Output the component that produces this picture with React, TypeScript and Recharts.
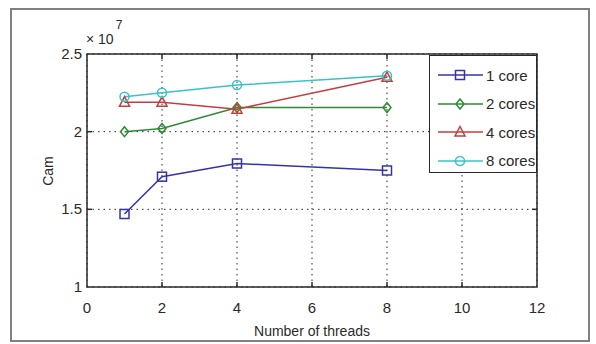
import { LineChart, Line, XAxis, YAxis, CartesianGrid, ReferenceArea, Legend } from "recharts";

const threads = [1, 2, 4, 8];
const oneCore = [1.47e7, 1.71e7, 1.795e7, 1.75e7];
const twoCores = [2.0e7, 2.02e7, 2.155e7, 2.155e7];
const fourCores = [2.19e7, 2.19e7, 2.145e7, 2.35e7];
const eightCores = [2.225e7, 2.25e7, 2.30e7, 2.36e7];

const xTicks = [0, 2, 4, 6, 8, 10, 12];
const yTicks = [1e7, 1.5e7, 2e7, 2.5e7];

const series = [
  { key: "one", name: "1 core", color: "#3434a8", marker: "square" },
  { key: "two", name: "2 cores", color: "#2f8a34", marker: "diamond" },
  { key: "four", name: "4 cores", color: "#c83c3c", marker: "triangle" },
  { key: "eight", name: "8 cores", color: "#38c4c4", marker: "circle" },
];

const data = threads.map((t, i) => ({
  threads: t,
  one: oneCore[i],
  two: twoCores[i],
  four: fourCores[i],
  eight: eightCores[i],
}));

const W = 596;
const H = 344;
const PLOT_LEFT = 87;
const PLOT_RIGHT = 537;
const PLOT_TOP = 54;
const PLOT_BOTTOM = 287;
const FONT = "'Liberation Sans Narrow', 'Liberation Sans', Arial, sans-serif";
const INK = "#2a2a2a";

function Marker({ type, cx, cy, color, k }: { type: string; cx: number; cy: number; color: string; k?: any }) {
  const s = 4.5;
  if (type === "square")
    return <rect key={k} x={cx - s} y={cy - s} width={s * 2} height={s * 2} fill="none" stroke={color} strokeWidth={1.5} />;
  if (type === "diamond")
    return (
      <polygon
        key={k}
        points={`${cx},${cy - 5} ${cx + 4},${cy} ${cx},${cy + 5} ${cx - 4},${cy}`}
        fill="none"
        stroke={color}
        strokeWidth={1.5}
      />
    );
  if (type === "triangle")
    return (
      <polygon
        key={k}
        points={`${cx},${cy - 5.5} ${cx + 5},${cy + 4} ${cx - 5},${cy + 4}`}
        fill="none"
        stroke={color}
        strokeWidth={1.5}
      />
    );
  return <circle key={k} cx={cx} cy={cy} r={4.5} fill="none" stroke={color} strokeWidth={1.5} />;
}

function XTick(props: any) {
  const { x, payload } = props;
  const inner = payload.value !== 0 && payload.value !== 12;
  return (
    <g>
      {inner && <line x1={x} x2={x} y1={PLOT_BOTTOM} y2={PLOT_BOTTOM - 5} stroke={INK} strokeWidth={1.5} />}
      {inner && <line x1={x} x2={x} y1={PLOT_TOP} y2={PLOT_TOP + 5} stroke={INK} strokeWidth={1.5} />}
      <text x={x} y={313} textAnchor="middle" fontFamily={FONT} fontSize={15} fill={INK}>
        {payload.value}
      </text>
    </g>
  );
}

function YTick(props: any) {
  const { y, payload } = props;
  const inner = payload.value !== 1e7 && payload.value !== 2.5e7;
  return (
    <g>
      {inner && <line x1={PLOT_LEFT} x2={PLOT_LEFT + 5} y1={y} y2={y} stroke={INK} strokeWidth={1.5} />}
      {inner && <line x1={PLOT_RIGHT} x2={PLOT_RIGHT - 5} y1={y} y2={y} stroke={INK} strokeWidth={1.5} />}
      <text x={PLOT_LEFT - 5} y={y + 5} textAnchor="end" fontFamily={FONT} fontSize={15} fill={INK}>
        {payload.value / 1e7}
      </text>
    </g>
  );
}

function LegendBox() {
  return (
    <div
      style={{
        width: 108,
        height: 118,
        boxSizing: "border-box",
        border: `1.5px solid ${INK}`,
        background: "#fff",
        paddingTop: 5,
      }}
    >
      {series.map((s) => (
        <div key={s.key} style={{ display: "flex", alignItems: "center", height: 28.5 }}>
          <svg width={56} height={20} style={{ flex: "none" }}>
            <line x1={8} x2={53} y1={10} y2={10} stroke={s.color} strokeWidth={1.5} />
            <Marker type={s.marker} cx={30} cy={10} color={s.color} />
          </svg>
          <span style={{ fontFamily: FONT, fontSize: 15, color: INK }}>{s.name}</span>
        </div>
      ))}
    </div>
  );
}

export default function App() {
  return (
    <div style={{ position: "absolute", left: 0, top: 0, width: W, height: H, background: "#fff" }}>
      <div
        style={{
          position: "absolute",
          left: 10,
          top: 8,
          width: 580,
          height: 334,
          boxSizing: "border-box",
          border: "2px solid #808080",
        }}
      />
      <div style={{ position: "absolute", left: 0, top: 0 }}>
        <LineChart
          width={W}
          height={H}
          data={data}
          margin={{ top: PLOT_TOP, right: W - PLOT_RIGHT, bottom: 0, left: 0 }}
        >
          <CartesianGrid
            stroke={INK}
            strokeDasharray="1.5 4"
            verticalPoints={undefined}
            horizontal
            vertical
          />
          <XAxis
            dataKey="threads"
            type="number"
            domain={[0, 12]}
            ticks={xTicks}
            height={H - PLOT_BOTTOM}
            axisLine={false}
            tickLine={false}
            tick={<XTick />}
            interval={0}
          />
          <YAxis
            type="number"
            domain={[1e7, 2.5e7]}
            ticks={yTicks}
            width={PLOT_LEFT}
            axisLine={false}
            tickLine={false}
            tick={<YTick />}
            interval={0}
          />
          <ReferenceArea x1={0} x2={12} y1={1e7} y2={2.5e7} fill="none" stroke={INK} strokeWidth={1.5} ifOverflow="visible" />
          {series.map((s) => (
            <Line
              key={s.key}
              dataKey={s.key}
              name={s.name}
              type="linear"
              stroke={s.color}
              strokeWidth={1.5}
              isAnimationActive={false}
              dot={(p: any) => <Marker key={`${s.key}-${p.index}`} type={s.marker} cx={p.cx} cy={p.cy} color={s.color} />}
            />
          ))}
          <Legend
            layout="vertical"
            align="center"
            verticalAlign="middle"
            content={() => <LegendBox />}
            wrapperStyle={{ left: 429, top: 55, width: 108, height: 118 }}
          />
        </LineChart>
      </div>
      <div
        style={{
          position: "absolute",
          left: 86,
          top: 31,
          fontFamily: FONT,
          fontSize: 14,
          color: INK,
          whiteSpace: "nowrap",
        }}
      >
        × 10
        <span style={{ position: "relative", top: -15, fontSize: 12, marginLeft: 2 }}>7</span>
      </div>
      <div
        style={{
          position: "absolute",
          left: 48,
          top: (PLOT_TOP + PLOT_BOTTOM) / 2,
          transform: "translate(-50%, -50%) rotate(-90deg)",
          fontFamily: FONT,
          fontSize: 14,
          color: INK,
        }}
      >
        Cam
      </div>
      <div
        style={{
          position: "absolute",
          left: (PLOT_LEFT + PLOT_RIGHT) / 2,
          top: 331,
          transform: "translate(-50%, -50%)",
          fontFamily: FONT,
          fontSize: 14,
          color: INK,
          whiteSpace: "nowrap",
        }}
      >
        Number of threads
      </div>
    </div>
  );
}
